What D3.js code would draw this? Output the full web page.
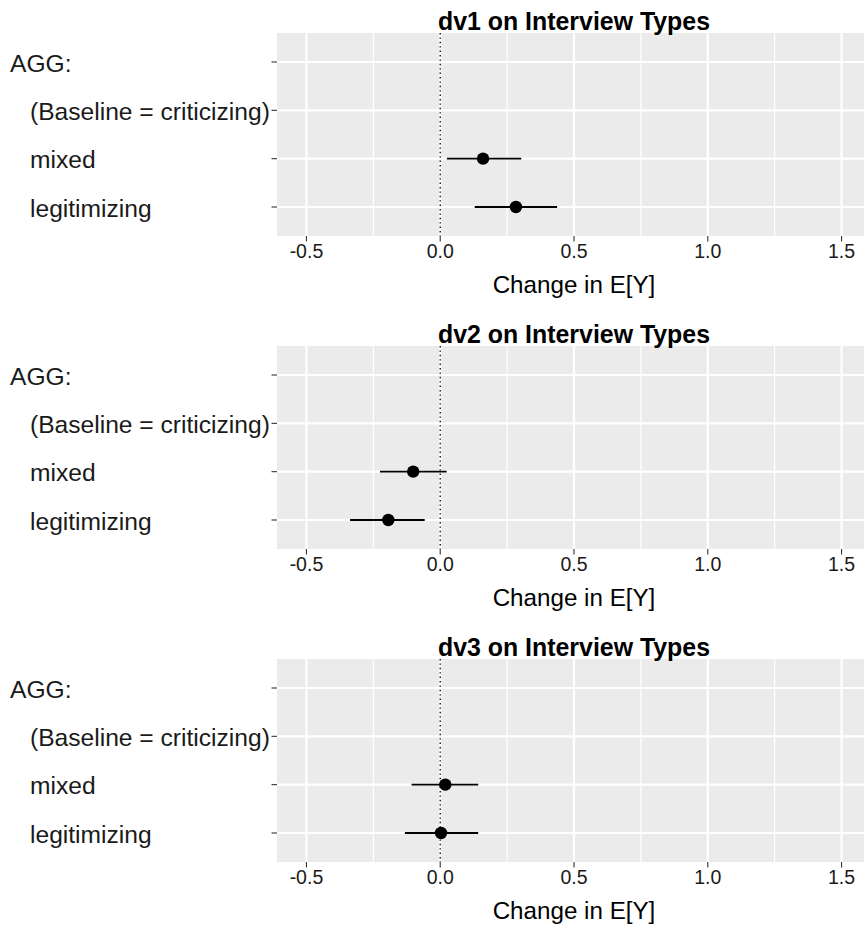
<!DOCTYPE html>
<html>
<head>
<meta charset="utf-8">
<script src="https://cdn.jsdelivr.net/npm/d3@7"></script>
<style>
  html, body { margin: 0; padding: 0; background: #ffffff; }
  svg { display: block; font-family: "Liberation Sans", Arial, sans-serif; }
</style>
</head>
<body>
<svg id="chart" width="864" height="925"></svg>
<script>
// Coefficient plot: three outcomes regressed on interview type (baseline = criticizing)
const panelTitles = ["dv1 on Interview Types", "dv2 on Interview Types", "dv3 on Interview Types"];
const categories = ["AGG:", "(Baseline = criticizing)", "mixed", "legitimizing"];
const termCategories = ["mixed", "legitimizing"];

// Point estimates and interval bounds per outcome, in termCategories order
const estimates = [[0.160, 0.283], [-0.101, -0.194], [0.019, 0.003]];
const lowerBounds = [[0.025, 0.129], [-0.225, -0.337], [-0.107, -0.132]];
const upperBounds = [[0.303, 0.437], [0.024, -0.058], [0.142, 0.142]];

const xTicks = [-0.5, 0, 0.5, 1.0, 1.5];
const xMinorTicks = [-0.25, 0.25, 0.75, 1.25];
const xDomain = [-0.61, 1.61];
const xAxisTitle = "Change in E[Y]";

const svg = d3.select("#chart");

const panelLeft = 277, panelRight = 871;
const panelHeight = 203, firstTop = 33, panelStep = 313;

const x = d3.scaleLinear().domain(xDomain).range([panelLeft, panelRight]);

panelTitles.forEach((title, p) => {
  const top = firstTop + p * panelStep;
  const bottom = top + panelHeight;
  const y = d3.scalePoint().domain(categories).range([top, bottom]).padding(0.6);
  const g = svg.append("g");

  // panel background
  g.append("rect")
    .attr("x", panelLeft).attr("y", top)
    .attr("width", panelRight - panelLeft).attr("height", panelHeight)
    .attr("fill", "#EBEBEB");

  // minor vertical grid
  g.selectAll(".minor").data(xMinorTicks).join("line")
    .attr("x1", d => x(d)).attr("x2", d => x(d))
    .attr("y1", top).attr("y2", bottom)
    .attr("stroke", "#ffffff").attr("stroke-width", 1.2);

  // major vertical grid
  g.selectAll(".major").data(xTicks).join("line")
    .attr("x1", d => x(d)).attr("x2", d => x(d))
    .attr("y1", top).attr("y2", bottom)
    .attr("stroke", "#ffffff").attr("stroke-width", 2.2);

  // horizontal grid at each category
  g.selectAll(".hgrid").data(categories).join("line")
    .attr("x1", panelLeft).attr("x2", panelRight)
    .attr("y1", d => y(d)).attr("y2", d => y(d))
    .attr("stroke", "#ffffff").attr("stroke-width", 2.2);

  // zero reference line
  g.append("line")
    .attr("x1", x(0)).attr("x2", x(0))
    .attr("y1", top).attr("y2", bottom)
    .attr("stroke", "#000000").attr("stroke-width", 1.3)
    .attr("stroke-dasharray", "1.4 3");

  // y-axis ticks and labels
  g.selectAll(".ytick").data(categories).join("line")
    .attr("x1", panelLeft - 5.5).attr("x2", panelLeft)
    .attr("y1", d => y(d)).attr("y2", d => y(d))
    .attr("stroke", "#333333").attr("stroke-width", 1.1);

  g.selectAll(".ylab").data(categories).join("text")
    .attr("x", d => d.endsWith(":") ? 10 : 30)
    .attr("y", d => y(d) + 9.5)
    .attr("font-size", 24.6)
    .attr("fill", "#1a1a1a")
    .text(d => d);

  // x-axis ticks and labels
  g.selectAll(".xtick").data(xTicks).join("line")
    .attr("x1", d => x(d)).attr("x2", d => x(d))
    .attr("y1", bottom).attr("y2", bottom + 5.5)
    .attr("stroke", "#333333").attr("stroke-width", 1.1);

  g.selectAll(".xlab").data(xTicks).join("text")
    .attr("x", d => x(d))
    .attr("y", bottom + 22)
    .attr("text-anchor", "middle")
    .attr("font-size", 19.5)
    .attr("fill", "#1a1a1a")
    .text(d => d3.format(".1f")(d).replace("−", "-"));

  g.append("text")
    .attr("x", (panelLeft + panelRight) / 2)
    .attr("y", bottom + 57)
    .attr("text-anchor", "middle")
    .attr("font-size", 24.2)
    .attr("fill", "#000000")
    .text(xAxisTitle);

  // panel title
  g.append("text")
    .attr("x", (panelLeft + panelRight) / 2)
    .attr("y", top - 3.5)
    .attr("text-anchor", "middle")
    .attr("font-size", 24.9)
    .attr("font-weight", "bold")
    .attr("fill", "#000000")
    .text(title);

  // interval bars and point estimates
  const rows = termCategories.map((c, i) => ({
    cat: c, est: estimates[p][i], lo: lowerBounds[p][i], hi: upperBounds[p][i]
  }));

  g.selectAll(".ci").data(rows).join("line")
    .attr("x1", d => x(d.lo)).attr("x2", d => x(d.hi))
    .attr("y1", d => y(d.cat)).attr("y2", d => y(d.cat))
    .attr("stroke", "#000000").attr("stroke-width", 1.9);

  g.selectAll(".pt").data(rows).join("circle")
    .attr("cx", d => x(d.est)).attr("cy", d => y(d.cat))
    .attr("r", 6.2)
    .attr("fill", "#000000");
});
</script>
</body>
</html>
